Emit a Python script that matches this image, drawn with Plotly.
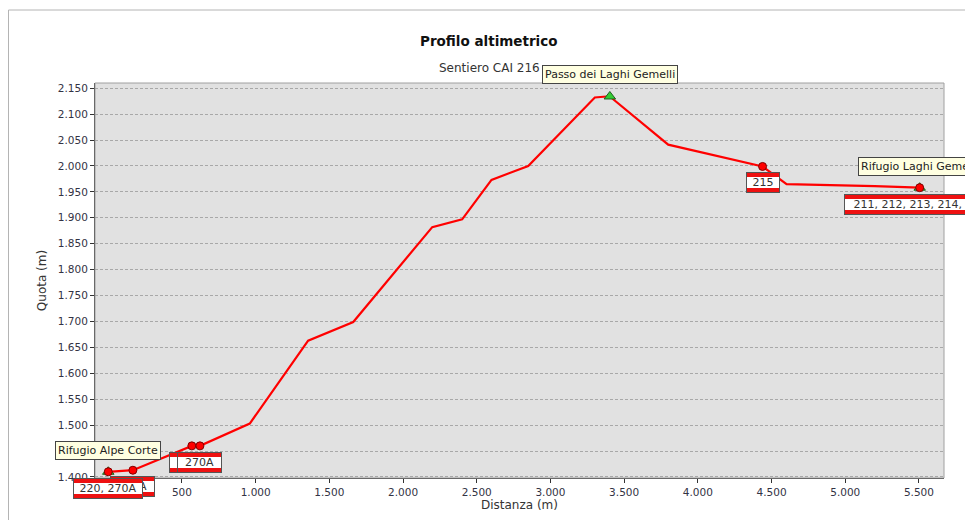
import plotly.graph_objects as go

# ---- data ----
distanza = [0, 167, 567, 622, 960, 1356, 1662, 2198, 2401, 2600, 2849, 3301, 3381, 3403,
            3799, 4439, 4500, 4602, 5200, 5505]
quota = [1410, 1413, 1460, 1460, 1503, 1663, 1699, 1882, 1897, 1973, 2000, 2132, 2134, 2134,
         2041, 1999, 1986, 1965, 1961, 1958]

# junctions with trail numbers (drawn in this order: later on top)
junction_x = [167, 0, 567, 622, 4439, 5505]
junction_y = [1413, 1410, 1460, 1460, 1999, 1958]
junction_trails = ["270A", "220, 270A", "270A", "270A", "215", "211, 212, 213, 214, 232"]
junction_width = [43, 68, 43, 43, 32, 150]

# named points
poi_x = [0, 3403, 5505]
poi_y = [1410, 2134, 1958]
poi_names = ["Rifugio Alpe Corte", "Passo dei Laghi Gemelli", "Rifugio Laghi Gemelli"]

x_ticks = list(range(0, 6000, 500))
y_ticks = list(range(1400, 2200, 50))

FONT = "DejaVu Sans"
OFF = 8  # page body margin of the html page
W, H = 965, 512
ML, MT = 95 - OFF, 83 - OFF
PW, PH = 849, 395
MR, MB = W - ML - PW, H - MT - PH


def px_x(p):  # window pixel -> paper x
    return (p - OFF - ML) / PW


def px_y(p):  # window pixel -> paper y
    return (MT + PH - (p - OFF)) / PH


fig = go.Figure()
fig.add_trace(go.Scatter(
    x=distanza, y=quota, mode="lines",
    line=dict(color="#ff0000", width=2.2), hoverinfo="skip", showlegend=False))
fig.add_trace(go.Scatter(
    x=poi_x, y=poi_y, mode="markers",
    marker=dict(symbol="triangle-up", size=10, color="#33cc33",
                line=dict(color="#1f5f1f", width=1)),
    showlegend=False))
fig.add_trace(go.Scatter(
    x=junction_x, y=junction_y, mode="markers",
    marker=dict(symbol="circle", size=8, color="#ff0000",
                line=dict(color="#800000", width=1)),
    showlegend=False))

annotations = []
# trail signs: red-white-red boxes
for jx, jy, txt, w in zip(junction_x, junction_y, junction_trails, junction_width):
    annotations.append(dict(
        x=jx, y=jy, xref="x", yref="y", xanchor="center", yanchor="top",
        yshift=-6, showarrow=False, text=txt, width=w, height=19,
        bgcolor="#ee1111", bordercolor="#555555", borderwidth=1, borderpad=0,
        font=dict(family=FONT, size=11, color="#ee1111")))
    annotations.append(dict(
        x=jx, y=jy, xref="x", yref="y", xanchor="center", yanchor="top",
        yshift=-11, showarrow=False, text=txt, width=w, height=11,
        bgcolor="#ffffff", borderwidth=0, borderpad=0,
        font=dict(family=FONT, size=11, color="#333333")))

# named point labels
for px_, py_, name in zip(poi_x, poi_y, poi_names):
    annotations.append(dict(
        x=px_, y=py_, xref="x", yref="y", xanchor="center", yanchor="bottom",
        yshift=12, showarrow=False, text=name,
        bgcolor="#ffffe1", bordercolor="#444444", borderwidth=1, borderpad=2,
        font=dict(family=FONT, size=11, color="#222222")))

# title and subtitle
annotations.append(dict(
    x=px_x(489), y=px_y(68), xref="paper", yref="paper",
    xanchor="center", yanchor="middle", showarrow=False, text="Sentiero CAI 216",
    font=dict(family=FONT, size=12, color="#333333")))
annotations.append(dict(
    x=px_x(489), y=px_y(41), xref="paper", yref="paper",
    xanchor="center", yanchor="middle", showarrow=False, text="<b>Profilo altimetrico</b>",
    font=dict(family=FONT, size=13.5, color="#111111")))

shapes = [
    # outer frame
    dict(type="rect", xref="paper", yref="paper",
         x0=px_x(8.5), x1=px_x(1000), y0=px_y(560), y1=px_y(10),
         line=dict(color="#b4b4b4", width=1), fillcolor="rgba(0,0,0,0)", layer="below"),
    # plot border
    dict(type="rect", xref="paper", yref="paper", x0=0, x1=1, y0=0, y1=1,
         line=dict(color="#a0a0a0", width=1), fillcolor="rgba(0,0,0,0)", layer="above"),
]

fig.update_layout(
    width=W, height=H,
    margin=dict(l=ML, r=MR, t=MT, b=MB, autoexpand=False),
    paper_bgcolor="#ffffff", plot_bgcolor="#e1e1e1",
    separators=",.",
    font=dict(family=FONT, size=11, color="#333333"),
    showlegend=False,
    annotations=annotations,
    shapes=shapes,
)
fig.update_xaxes(
    range=[-90, 5670], tickvals=x_ticks, tickformat=",d", automargin=False,
    showgrid=False, zeroline=False,
    showline=True, linecolor="#333333", linewidth=1,
    ticks="outside", ticklen=4, tickcolor="#333333",
    tickfont=dict(family=FONT, size=10.5, color="#333344"),
    title=dict(text="Distanza (m)", font=dict(family=FONT, size=12, color="#333333"), standoff=4),
)
fig.update_yaxes(
    range=[1398, 2160], tickvals=y_ticks, tickformat=",d", automargin=False,
    showgrid=True, gridcolor="#a8a8a8", griddash="3px,2px", gridwidth=1, zeroline=False,
    showline=True, linecolor="#333333", linewidth=1,
    ticks="outside", ticklen=4, tickcolor="#333333",
    tickfont=dict(family=FONT, size=10.5, color="#333344"),
    title=dict(text="Quota (m)", font=dict(family=FONT, size=12, color="#333333"), standoff=8),
)

fig.write_html("out.html")
